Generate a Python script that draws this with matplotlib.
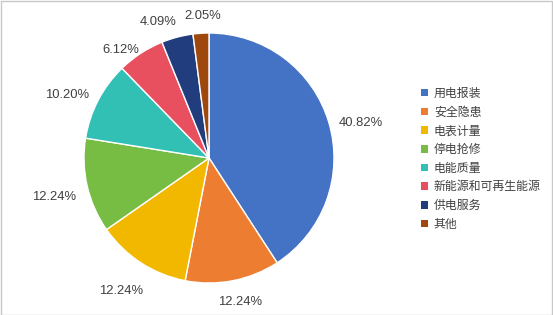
import numpy as np
import matplotlib
matplotlib.use("Agg")
import matplotlib.pyplot as plt
from matplotlib.patches import Patch, Rectangle

plt.rcParams['font.family'] = ['Noto Sans CJK SC', 'DejaVu Sans']

categories = ["用电报装", "安全隐患", "电表计量", "停电抢修", "电能质量", "新能源和可再生能源", "供电服务", "其他"]
values = [40.82, 12.24, 12.24, 12.24, 10.20, 6.12, 4.09, 2.05]
labels = ["40.82%", "12.24%", "12.24%", "12.24%", "10.20%", "6.12%", "4.09%", "2.05%"]
colors = ["#4472C4", "#ED7D31", "#F2B800", "#77BC43", "#33C0B4", "#E8505F", "#223D7E", "#9E480E"]

# label placement: radial distance of label centre (pie radii) and angular nudge (deg)
label_dist = [1.25, 1.18, 1.28, 1.28, 1.24, 1.115, 1.16, 1.14]
label_shift = [-3.6, 1.3, -0.5, 1.2, 3.5, 6.0, 5.8, -1.0]

W, H = 553, 315
fig = plt.figure(figsize=(W / 100, H / 100), dpi=100)
fig.patches.append(Rectangle((0.5 / W, 0.5 / H), 1 - 1.5 / W, 1 - 1.5 / H, transform=fig.transFigure,
                             fill=False, edgecolor="#C8C8C8", linewidth=1))

cx, cy, R = 209, 158, 125
ax = fig.add_axes([(cx - R) / W, (H - cy - R) / H, 2 * R / W, 2 * R / H])
wedges, _ = ax.pie(values, colors=colors, startangle=90, counterclock=False, radius=1,
                   wedgeprops=dict(edgecolor="white", linewidth=1))
ax.set_xlim(-1, 1)
ax.set_ylim(-1, 1)
ax.set_aspect("equal")
ax.axis("off")

for w, lab, d, sh in zip(wedges, labels, label_dist, label_shift):
    ang = np.deg2rad((w.theta1 + w.theta2) / 2 + sh)
    ax.text(d * np.cos(ang), d * np.sin(ang), lab, ha="center", va="center", fontsize=9.4,
            color="#404040", family="Liberation Sans", clip_on=False)

handles = [Patch(facecolor=col, edgecolor="none") for col in colors]
fig.legend(handles, categories, loc="upper left", bbox_to_anchor=(416 / W, 1 - 82 / H),
           frameon=False, fontsize=8.6, handlelength=0.6, handleheight=0.6,
           handletextpad=0.5, labelspacing=0.48, borderaxespad=0, labelcolor="#404040")

fig.savefig("out.png", dpi=100)
